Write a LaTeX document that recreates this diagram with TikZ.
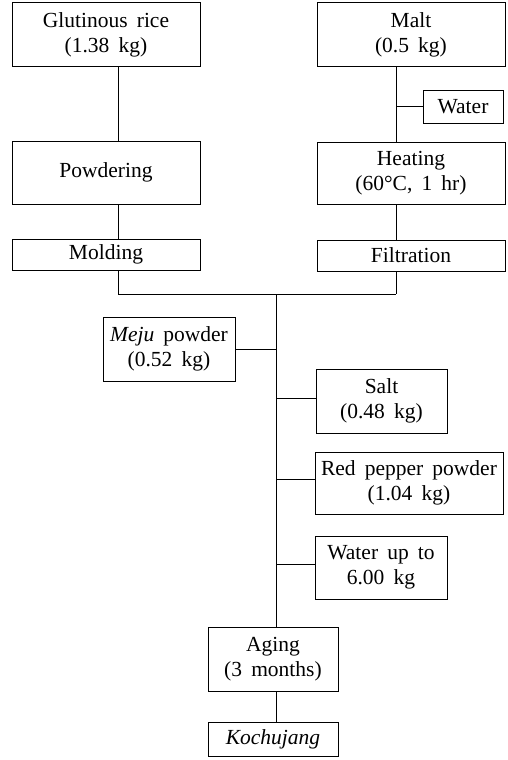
\documentclass[tikz,border=0pt]{standalone}
\usepackage{fontspec}
\setmainfont{Liberation Serif}[WordSpace=1.7]
\begin{document}
\begin{tikzpicture}[x=1pt,y=-1pt,
  box/.style={draw,line width=1pt,inner sep=0pt,align=center,font=\fontsize{21.5}{25.5}\selectfont},
  conn/.style={line width=1pt}]
\useasboundingbox (0,0) rectangle (507,760);
\node[box,minimum width=188,minimum height=64] (rice) at (106,35) {Glutinous rice\\(1.38 kg)};
\node[box,minimum width=188,minimum height=64] (malt) at (411,35) {Malt\\(0.5 kg)};
\node[box,minimum width=80,minimum height=33] (water) at (463,106.5) {Water};
\node[box,minimum width=188,minimum height=63] (powder) at (106,172.5) {Powdering};
\node[box,minimum width=188,minimum height=62] (heat) at (411,173) {Heating\\(60°C, 1 hr)};
\node[box,minimum width=188,minimum height=31] (mold) at (106,254.5) {Molding};
\node[box,minimum width=188,minimum height=31] (filt) at (411,255.5) {Filtration};
\node[box,minimum width=132,minimum height=64] (meju) at (169,349) {\textit{Meju} powder\\(0.52 kg)};
\node[box,minimum width=131,minimum height=64] (salt) at (381.5,401) {Salt\\(0.48 kg)};
\node[box,minimum width=188,minimum height=62] (pepper) at (409,483) {Red pepper powder\\(1.04 kg)};
\node[box,minimum width=132,minimum height=63] (wup) at (381,567.5) {Water up to\\6.00 kg};
\node[box,minimum width=130,minimum height=64] (aging) at (273,659) {Aging\\(3 months)};
\node[box,minimum width=130,minimum height=34] (koch) at (273,739) {\textit{Kochujang}};
\coordinate (jl) at (118,294);
\coordinate (jr) at (396,294);
\coordinate (j) at (276,294);
% left column
\draw[conn] ([xshift=12]rice.south) -- ([xshift=12]powder.north);
\draw[conn] ([xshift=12]powder.south) -- ([xshift=12]mold.north);
\draw[conn] ([xshift=12]mold.south) -- (jl) -- (jr);
% right column
\draw[conn] ([xshift=-15]malt.south) -- ([xshift=-15]heat.north);
\draw[conn] (water.west) -- (water.west -| jr);
\draw[conn] ([xshift=-15]heat.south) -- ([xshift=-15]filt.north);
\draw[conn] ([xshift=-15]filt.south) -- (jr);
% trunk
\draw[conn] (j) -- (j |- aging.north);
\draw[conn] (meju.east) -- (meju.east -| j);
\draw[conn] ([yshift=3]salt.west) -- ([yshift=3]salt.west -| j);
\draw[conn] ([yshift=4]pepper.west) -- ([yshift=4]pepper.west -| j);
\draw[conn] ([yshift=3.5]wup.west) -- ([yshift=3.5]wup.west -| j);
\draw[conn] (aging.south -| j) -- (koch.north -| j);
\end{tikzpicture}
\end{document}
